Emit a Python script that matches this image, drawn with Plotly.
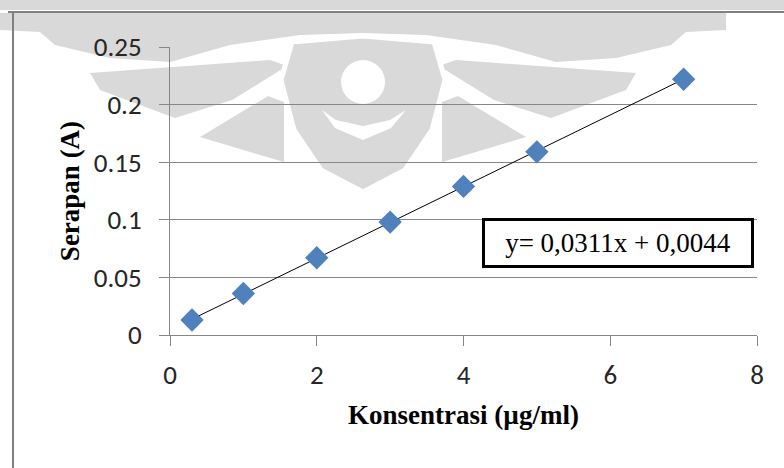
import plotly.graph_objects as go

# Calibration data: concentration (µg/ml) vs absorbance (A)
konsentrasi = [0.3, 1, 2, 3, 4, 5, 7]
serapan = [0.013, 0.036, 0.067, 0.098, 0.129, 0.159, 0.222]

# Linear regression result shown on the chart
slope = 0.0311
intercept = 0.0044
equation_text = "y= 0,0311x + 0,0044"

x_ticks = [0, 2, 4, 6, 8]
y_ticks = [0, 0.05, 0.1, 0.15, 0.2, 0.25]
y_tick_text = ["0", "0.05", "0.1", "0.15", "0.2", "0.25"]

fit_x = [min(konsentrasi), max(konsentrasi)]
fit_y = [slope * v + intercept for v in fit_x]

W, H = 784, 468
ML, MR, MT, MB = 170, 27, 47, 133
PW, PH = W - ML - MR, H - MT - MB


def px(x, y):
    """Pixel position on the page -> paper coordinates of the plot area."""
    return (x - ML) / PW, (H - MB - y) / PH


def poly(points):
    parts = []
    for i, (x, y) in enumerate(points):
        u, v = px(x, y)
        parts.append(("M" if i == 0 else "L") + f"{u:.4f},{v:.4f}")
    return " ".join(parts) + " Z"


tick_font = dict(family="Carlito, Liberation Sans Narrow, Open Sans, sans-serif", size=27, color="#262626")
title_font = dict(family="Liberation Serif, Times New Roman, serif", size=27, color="black")

fig = go.Figure()

fig.add_trace(go.Scatter(
    x=fit_x, y=fit_y, mode="lines",
    line=dict(color="black", width=1),
    showlegend=False, hoverinfo="skip",
))

fig.add_trace(go.Scatter(
    x=konsentrasi, y=serapan, mode="markers",
    marker=dict(symbol="diamond", size=18, color="#4F81BD", line=dict(width=0)),
    showlegend=False,
))

fig.update_layout(
    width=W, height=H,
    margin=dict(l=ML, r=MR, t=MT, b=MB),
    paper_bgcolor="white", plot_bgcolor="rgba(0,0,0,0)",
    xaxis=dict(
        range=[0, 8], tickvals=x_ticks, ticktext=[str(v) for v in x_ticks],
        showgrid=False, zeroline=False,
        showline=True, linecolor="#868686", linewidth=1,
        ticks="outside", ticklen=10, tickcolor="#868686",
        tickfont=tick_font, ticklabelstandoff=6,
        title=dict(text="<b>Konsentrasi (µg/ml)</b>", font=title_font, standoff=14),
    ),
    yaxis=dict(
        range=[0, 0.25], tickvals=y_ticks, ticktext=y_tick_text,
        showgrid=True, gridcolor="#868686", gridwidth=1,
        zeroline=False,
        showline=True, linecolor="#868686", linewidth=1,
        ticks="outside", ticklen=10, tickcolor="#868686",
        tickfont=tick_font, ticklabelstandoff=12,
        title=dict(text="<b>Serapan (A)</b>", font=title_font, standoff=6),
    ),
    annotations=[
        dict(
            x=6.11, y=0.0797, xref="x", yref="y",
            text=equation_text, showarrow=False,
            font=dict(family="Liberation Serif, Times New Roman, serif", size=27, color="black"),
            bordercolor="black", borderwidth=3, borderpad=6,
            bgcolor="white", width=254, height=32,
        )
    ],
)

# Faint emblem behind the plot (light grey, symmetric about x = 363 px)
CX = 363
EMBLEM = "#d9d9d9"
left_parts = [
    # upper band
    [(0, 13), (CX, 13), (CX, 33), (300, 35), (230, 45), (170, 62), (110, 58),
     (55, 45), (40, 32), (0, 30)],
    # middle wing
    [(90, 73), (270, 60), (287, 66), (232, 100), (175, 118), (100, 90)],
    # lower wing
    [(200, 137), (268, 96), (284, 102), (284, 162), (250, 152)],
]
shapes = [dict(type="rect", xref="paper", yref="paper",
               x0=px(0, 0)[0], x1=px(W, 0)[0], y0=px(0, 0)[1], y1=px(0, 10)[1],
               fillcolor=EMBLEM, line=dict(width=0), layer="below")]
for pts in left_parts:
    for mirror in (False, True):
        p = [(2 * CX - x, y) if mirror else (x, y) for x, y in pts]
        shapes.append(dict(type="path", xref="paper", yref="paper", path=poly(p),
                           fillcolor=EMBLEM, line=dict(width=0), layer="below"))

# central drop with its inner circle and crescent
drop = [(292, 42), (CX, 36), (434, 42), (445, 80), (432, 130), (405, 170), (CX, 192),
        (321, 170), (294, 130), (281, 80)]
shapes.append(dict(type="path", xref="paper", yref="paper", path=poly(drop),
                   fillcolor=EMBLEM, line=dict(color="white", width=5), layer="below"))
cx0, cy0 = px(CX - 22, 60)
cx1, cy1 = px(CX + 22, 104)
shapes.append(dict(type="circle", xref="paper", yref="paper", x0=cx0, x1=cx1, y0=cy0, y1=cy1,
                   fillcolor="white", line=dict(width=0), layer="below"))
crescent = [(322, 110), (335, 128), (CX, 140), (391, 128), (406, 110),
            (390, 120), (CX, 126), (336, 120)]
shapes.append(dict(type="path", xref="paper", yref="paper", path=poly(crescent),
                   fillcolor="white", line=dict(width=0), layer="below"))

# outer chart frame: top and left edges
fx_left, fy_top = px(13, 12)
shapes.append(dict(type="line", xref="paper", yref="paper",
                   x0=px(8, 0)[0], x1=px(W, 0)[0], y0=fy_top, y1=fy_top,
                   line=dict(color="#808080", width=2), layer="below"))
shapes.append(dict(type="line", xref="paper", yref="paper",
                   x0=fx_left, x1=fx_left, y0=fy_top, y1=px(0, H)[1],
                   line=dict(color="#808080", width=2), layer="below"))

fig.update_layout(shapes=shapes)

fig.write_html("out.html")
